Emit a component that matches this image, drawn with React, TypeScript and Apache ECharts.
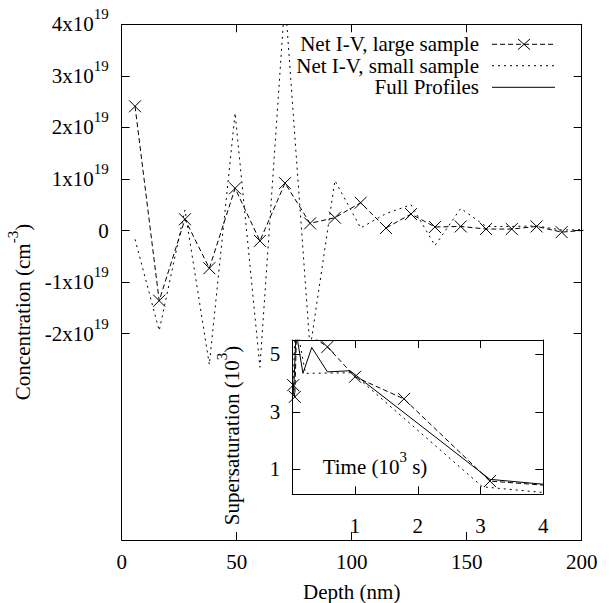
import React, { useEffect, useRef } from 'react';
import * as echarts from 'echarts';

// ---- main plot data (concentration in units of 1e19 cm^-3) ----
const depth = [5.8, 16.3, 27.5, 38.1, 49.3, 60.1, 71.0, 81.9, 92.7, 103.9, 114.9, 125.8, 136.2, 147.4, 158.4, 169.6, 180.4, 191.3, 202.2];
const concLarge = [2.41, -1.36, 0.22, -0.73, 0.82, -0.2, 0.92, 0.14, 0.25, 0.54, 0.05, 0.32, 0.07, 0.08, 0.03, 0.03, 0.08, -0.03, 0.01];
const concSmall = [-0.17, -1.94, 0.4, -2.6, 2.28, -2.65, 4.5, -2.3, 0.97, 0.05, 0.33, 0.5, -0.29, 0.43, 0.08, 0.08, 0.09, 0.01, 0.02];

// ---- inset data (time in 1e3 s, supersaturation in 1e3) ----
const timeLarge = [0.015, 0.04, 0.07, 0.56, 1.0, 1.78, 3.15, 4.6];
const satLarge = [3.93, 3.52, 6.0, 5.26, 4.22, 3.45, 0.59, 0.35];
const timeSmall = [0.01, 0.05, 0.21, 0.95, 3.03, 4.6];
const satSmall = [3.75, 6.2, 4.34, 4.36, 0.39, 0.07];
const timeFull = [0.02, 0.06, 0.17, 0.31, 0.56, 0.92, 3.15, 4.6];
const satFull = [3.6, 5.8, 4.34, 5.24, 4.39, 4.43, 0.65, 0.36];

// ---- ticks ----
const concTicks = [-2, -1, 0, 1, 2, 3, 4];
const timeLabelTicks = [1, 2, 3, 4];
const timeTicks = [1, 2, 3];
const satTicks = [1, 3, 5];

const seriesNames = ['Net I-V, large sample', 'Net I-V, small sample', 'Full Profiles'];

const FONT = 'Liberation Serif';
const FS = 21;

const richAxis = {
  b: { fontFamily: FONT, fontSize: FS, lineHeight: FS, verticalAlign: 'bottom', color: '#000' },
  s: { fontFamily: FONT, fontSize: 15, lineHeight: 15, padding: [0, 0, 13, 0], verticalAlign: 'bottom', color: '#000' },
};
const richG = {
  b: { fontFamily: FONT, fontSize: FS, lineHeight: FS, verticalAlign: 'bottom', fill: '#000' },
  s: { fontFamily: FONT, fontSize: 15, lineHeight: 15, padding: [0, 0, 13, 0], verticalAlign: 'bottom', fill: '#000' },
};

const X_SYMBOL = 'path://M0,0L10,10M10,0L0,10';
const DASH = [5, 3];
const DOT = [2, 4];

const black = { color: '#000', width: 1 };

function axisBase(extra: any) {
  return {
    type: 'value',
    axisLine: { show: true, onZero: false, lineStyle: black },
    axisTick: { show: true, inside: true, length: 8, lineStyle: black },
    splitLine: { show: false },
    ...extra,
  };
}

export default function App() {
  const ref = useRef<HTMLDivElement>(null);
  useEffect(() => {
    if (!ref.current) return;
    const chart = echarts.init(ref.current, null, { renderer: 'svg' });
    const labelStyle = { fontFamily: FONT, fontSize: FS, color: '#000' };
    const legendText = (text: string, y: number) => ({
      type: 'text', x: 479, y, z: 100,
      style: { text, align: 'right', verticalAlign: 'middle', fontFamily: FONT, fontSize: FS, lineHeight: 19, fill: '#000' },
    });
    const option: any = {
      animation: false,
      backgroundColor: '#fff',
      textStyle: { fontFamily: FONT },
      grid: [
        { left: 121.7, top: 24.3, width: 460, height: 515.7, outerBoundsMode: 'none' },
        { left: 292.3, top: 340, width: 251, height: 154.3, show: true, backgroundColor: '#fff', borderWidth: 0, z: 5, outerBoundsMode: 'none' },
      ],
      xAxis: [
        axisBase({ gridIndex: 0, position: 'bottom', min: 0, max: 200, interval: 50, axisLabel: { ...labelStyle, margin: 11 } }),
        axisBase({ gridIndex: 0, position: 'top', min: 0, max: 200, interval: 50, axisLabel: { show: false } }),
        axisBase({ gridIndex: 1, position: 'bottom', min: 0, max: 4, interval: 1, z: 10,
          axisTick: { show: true, inside: true, length: 8, lineStyle: black, customValues: timeTicks },
          axisLabel: { ...labelStyle, margin: 21, customValues: timeLabelTicks } }),
        axisBase({ gridIndex: 1, position: 'top', min: 0, max: 4, interval: 1, z: 10,
          axisTick: { show: true, inside: true, length: 8, lineStyle: black, customValues: timeTicks },
          axisLabel: { show: false } }),
      ],
      yAxis: [
        axisBase({ gridIndex: 0, position: 'left', min: -6, max: 4, interval: 1,
          axisTick: { show: true, inside: true, length: 8, lineStyle: black, customValues: concTicks },
          axisLabel: { ...labelStyle, margin: 13, customValues: concTicks, rich: richAxis,
            formatter: (v: number) => (v === 0 ? '{b|0}' : `{b|${v}x10}{s|19}`) } }),
        axisBase({ gridIndex: 0, position: 'right', min: -6, max: 4, interval: 1,
          axisTick: { show: true, inside: true, length: 8, lineStyle: black, customValues: concTicks },
          axisLabel: { show: false } }),
        axisBase({ gridIndex: 1, position: 'left', min: 0.13, max: 5.5, z: 10,
          axisTick: { show: true, inside: true, length: 8, lineStyle: black, customValues: satTicks },
          axisLabel: { ...labelStyle, margin: 12, customValues: satTicks } }),
        axisBase({ gridIndex: 1, position: 'right', min: 0.13, max: 5.5, z: 10,
          axisTick: { show: true, inside: true, length: 8, lineStyle: black, customValues: satTicks },
          axisLabel: { show: false } }),
      ],
      series: [
        {
          name: seriesNames[0], type: 'line', xAxisIndex: 0, yAxisIndex: 0, z: 2,
          data: depth.map((d, i) => [d, concLarge[i]]),
          symbol: X_SYMBOL, symbolSize: 12, showSymbol: true,
          itemStyle: { color: 'rgba(0,0,0,0)', borderColor: '#000', borderWidth: 1 },
          lineStyle: { color: '#000', width: 1, type: DASH },
          clip: true,
        },
        {
          name: seriesNames[1], type: 'line', xAxisIndex: 0, yAxisIndex: 0, z: 2,
          data: depth.map((d, i) => [d, concSmall[i]]),
          symbol: 'none',
          lineStyle: { color: '#000', width: 1, type: DOT },
          clip: true,
        },
        {
          name: seriesNames[0], type: 'line', xAxisIndex: 2, yAxisIndex: 2, z: 10,
          data: timeLarge.map((t, i) => [t, satLarge[i]]),
          symbol: X_SYMBOL, symbolSize: 12, showSymbol: true,
          itemStyle: { color: 'rgba(0,0,0,0)', borderColor: '#000', borderWidth: 1 },
          lineStyle: { color: '#000', width: 1, type: DASH },
          clip: true,
        },
        {
          name: seriesNames[1], type: 'line', xAxisIndex: 2, yAxisIndex: 2, z: 10,
          data: timeSmall.map((t, i) => [t, satSmall[i]]),
          symbol: 'none',
          lineStyle: { color: '#000', width: 1, type: DOT },
          clip: true,
        },
        {
          name: seriesNames[2], type: 'line', xAxisIndex: 2, yAxisIndex: 2, z: 10,
          data: timeFull.map((t, i) => [t, satFull[i]]),
          symbol: 'none',
          lineStyle: { color: '#000', width: 1, type: 'solid' },
          clip: true,
        },
      ],
      graphic: [
        { type: 'text', x: 22.5, y: 312, rotation: Math.PI / 2, z: 100,
          style: { text: '{b|Concentration (cm}{s|-3}{b|)}', rich: richG, align: 'center', verticalAlign: 'middle', fontFamily: FONT, fontSize: FS, fill: '#000' } },
        { type: 'text', x: 231.5, y: 435.5, rotation: Math.PI / 2, z: 100,
          style: { text: '{b|Supersaturation (10}{s|3}{b|)}', rich: richG, align: 'center', verticalAlign: 'middle', fontFamily: FONT, fontSize: FS, fill: '#000' } },
        { type: 'text', x: 375, y: 466.5, z: 100,
          style: { text: '{b|Time (10}{s|3}{b| s)}', rich: richG, align: 'center', verticalAlign: 'middle', fontFamily: FONT, fontSize: FS, fill: '#000' } },
        { type: 'text', x: 351.7, y: 591.5, z: 100,
          style: { text: 'Depth (nm)', align: 'center', verticalAlign: 'middle', fontFamily: FONT, fontSize: FS, lineHeight: 20, fill: '#000' } },
        // legend
        legendText(seriesNames[0], 44.3),
        { type: 'line', z: 100, shape: { x1: 492, y1: 44.3, x2: 555, y2: 44.3 }, style: { stroke: '#000', lineWidth: 1, lineDash: DASH } },
        { type: 'line', z: 100, shape: { x1: 518, y1: 39, x2: 530, y2: 49.6 }, style: { stroke: '#000', lineWidth: 1 } },
        { type: 'line', z: 100, shape: { x1: 518, y1: 49.6, x2: 530, y2: 39 }, style: { stroke: '#000', lineWidth: 1 } },
        legendText(seriesNames[1], 65.7),
        { type: 'line', z: 100, shape: { x1: 492, y1: 65.7, x2: 555, y2: 65.7 }, style: { stroke: '#000', lineWidth: 1, lineDash: DOT } },
        legendText(seriesNames[2], 87.3),
        { type: 'line', z: 100, shape: { x1: 492, y1: 87.3, x2: 555, y2: 87.3 }, style: { stroke: '#000', lineWidth: 1 } },
      ],
    };
    chart.setOption(option);
    return () => chart.dispose();
  }, []);
  return <div ref={ref} style={{ position: 'absolute', left: 0, top: 0, width: 611, height: 603 }} />;
}
